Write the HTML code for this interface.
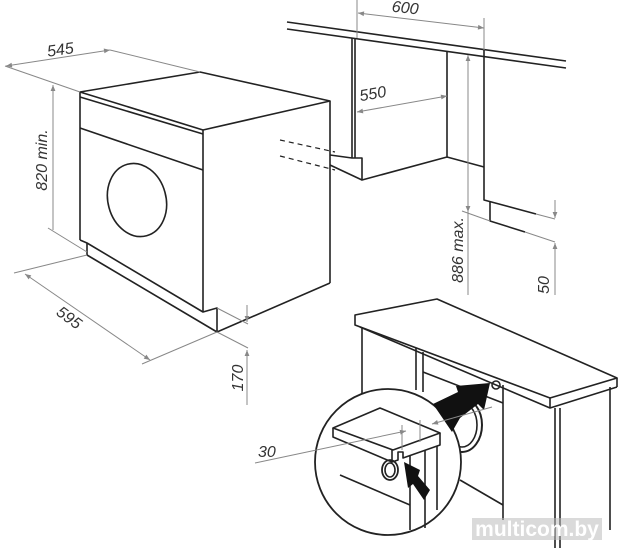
<!DOCTYPE html>
<html><head><meta charset="utf-8"><style>
html,body{margin:0;padding:0;background:#fff;width:619px;height:550px;overflow:hidden}
svg{display:block}
text{font-family:"Liberation Sans",sans-serif;font-style:italic;fill:#333;font-size:16px}
</style></head><body>
<svg width="619" height="550" viewBox="0 0 619 550" xmlns="http://www.w3.org/2000/svg">
<defs>
<marker id="a" viewBox="0 0 10 10" refX="10" refY="5" markerWidth="8" markerHeight="6" orient="auto-start-reverse"><path d="M0,1L10,5L0,9z" fill="#888"/></marker>
</defs>
<g fill="none" stroke="#222" stroke-width="1.6" stroke-linejoin="round">
<polygon points="80,92 200,72 330,101 203,130" fill="#fff"/>
<line x1="80" y1="92" x2="80" y2="240"/>
<line x1="80" y1="97" x2="203" y2="134"/>
<line x1="80" y1="128" x2="203" y2="170"/>
<line x1="203" y1="130" x2="203" y2="312"/>
<line x1="330" y1="101" x2="330" y2="283"/>
<polyline points="80,240 87,243 203,312 217,308 217,332 330,283"/>
<line x1="87" y1="243" x2="87" y2="255"/>
<line x1="87" y1="255" x2="217" y2="332"/>
<ellipse cx="137" cy="200" rx="29" ry="37" transform="rotate(-15 137 200)"/>
<line x1="287" y1="22" x2="566" y2="61"/>
<line x1="287" y1="29" x2="566" y2="68"/>
<line x1="352" y1="38" x2="352" y2="158"/>
<line x1="355" y1="38" x2="355" y2="158"/>
<polyline points="330,155 352,158 362,158 362,180 447,157 447,52"/>
<line x1="330" y1="165" x2="362" y2="180"/>
<polyline points="447,157 484,167"/>
<polyline points="484,50 484,200 536,214"/>
<polyline points="490,202 490,221 525,232"/>
<polygon points="355,315 437,299 617,378 550,398 355,325" fill="#fff"/>
<polyline points="360,327 550,408 617,387"/>
<line x1="617" y1="378" x2="617" y2="387"/>
<line x1="550" y1="398" x2="550" y2="408"/>
<line x1="362" y1="327" x2="362" y2="400"/>
<line x1="416" y1="348" x2="416" y2="390"/>
<line x1="423" y1="352" x2="423" y2="392"/>
<line x1="423" y1="372" x2="503" y2="403"/>
<line x1="503" y1="385" x2="503" y2="520"/>
<line x1="555" y1="408" x2="555" y2="548"/>
<line x1="560" y1="408" x2="560" y2="548"/>
<line x1="610" y1="387" x2="610" y2="530"/>
<line x1="460" y1="480" x2="503" y2="505"/>
<ellipse cx="462" cy="425" rx="20" ry="27" stroke-width="2"/>
<ellipse cx="462" cy="425" rx="15" ry="22"/>
<circle cx="496" cy="385" r="4"/>
<circle cx="388" cy="462" r="73" fill="#fff" stroke-width="1.8"/>
<polygon points="333,428 380,408 440,433 393,450" fill="#fff"/>
<polyline points="333,428 333,437 392,462 392,450"/>
<polyline points="392,462 398,460 398,452 403,452 403,458 440,445 440,433"/>
<line x1="410" y1="455" x2="410" y2="530"/>
<line x1="425" y1="450" x2="425" y2="528"/>
<line x1="437" y1="446" x2="437" y2="510"/>
<line x1="340" y1="475" x2="410" y2="505"/>
<ellipse cx="390" cy="470" rx="8" ry="10" stroke-width="1.8"/>
<ellipse cx="390" cy="470" rx="5" ry="7"/>
</g>
<path d="M433,404 L458,392 L456,386 L490,383 L484,410 L478,404 L460,418 L452,432 Z" fill="#111"/>
<path d="M404,462 L420,470 L418,476 L430,490 L424,500 L413,484 L408,488 Z" fill="#111"/>
<g stroke="#222" stroke-width="1.2" stroke-dasharray="5,4" fill="none">
<line x1="280" y1="140" x2="335" y2="152"/>
<line x1="280" y1="156" x2="335" y2="170"/>
</g>
<g stroke="#888" stroke-width="1" fill="none">
<line x1="5" y1="66" x2="80" y2="92"/>
<line x1="110" y1="50" x2="200" y2="72"/>
<line x1="6" y1="66" x2="110" y2="50" marker-start="url(#a)" marker-end="url(#a)"/>
<line x1="53" y1="85" x2="53" y2="230" marker-start="url(#a)"/>
<line x1="48" y1="228" x2="87" y2="252"/>
<line x1="14" y1="273" x2="87" y2="255"/>
<line x1="142" y1="364" x2="217" y2="332"/>
<line x1="25" y1="274" x2="150" y2="360" marker-start="url(#a)" marker-end="url(#a)"/>
<line x1="217" y1="308" x2="248" y2="324"/>
<line x1="217" y1="332" x2="248" y2="348"/>
<line x1="247" y1="305" x2="247" y2="322" marker-end="url(#a)"/>
<line x1="247" y1="405" x2="247" y2="350" marker-end="url(#a)"/>
<line x1="357" y1="0" x2="357" y2="38"/>
<line x1="484" y1="18" x2="484" y2="50"/>
<line x1="358" y1="13" x2="484" y2="28" marker-start="url(#a)" marker-end="url(#a)"/>
<line x1="357" y1="112" x2="447" y2="96" marker-start="url(#a)" marker-end="url(#a)"/>
<line x1="468" y1="55" x2="468" y2="295" marker-start="url(#a)"/>
<line x1="462" y1="211" x2="490" y2="221"/>
<line x1="468" y1="180" x2="468" y2="212" marker-end="url(#a)"/>
<line x1="536" y1="214" x2="555" y2="219"/>
<line x1="525" y1="232" x2="555" y2="242"/>
<line x1="555" y1="200" x2="555" y2="218" marker-end="url(#a)"/>
<line x1="555" y1="295" x2="555" y2="243" marker-end="url(#a)"/>
<line x1="255" y1="463" x2="406" y2="431" marker-end="url(#a)"/>
<line x1="453" y1="418" x2="432" y2="424" marker-end="url(#a)"/>
<line x1="453" y1="418" x2="492" y2="407"/>
<line x1="402" y1="425" x2="402" y2="450"/>
<line x1="420" y1="420" x2="420" y2="442"/>
</g>
<text x="47" y="55" transform="rotate(-8 60 50)">545</text>
<text x="0" y="0" transform="translate(47,160) rotate(-90)" text-anchor="middle">820 min.</text>
<text x="0" y="0" transform="translate(66,322) rotate(36)" text-anchor="middle">595</text>
<text x="0" y="0" transform="translate(243,378) rotate(-90)" text-anchor="middle">170</text>
<text x="405" y="13" transform="rotate(6 405 10)" text-anchor="middle">600</text>
<text x="373" y="99" transform="rotate(-10 373 95)" text-anchor="middle">550</text>
<text x="0" y="0" transform="translate(463,250) rotate(-90)" text-anchor="middle">886 max.</text>
<text x="0" y="0" transform="translate(549,285) rotate(-90)" text-anchor="middle">50</text>
<text x="258" y="457">30</text>
<rect x="472" y="518" width="130" height="22" fill="#bbb" opacity="0.55"/>
<text x="537" y="536" text-anchor="middle" style="font-style:normal;font-weight:bold;font-size:21px;fill:#fff">multicom.by</text>
</svg>
</body></html>
